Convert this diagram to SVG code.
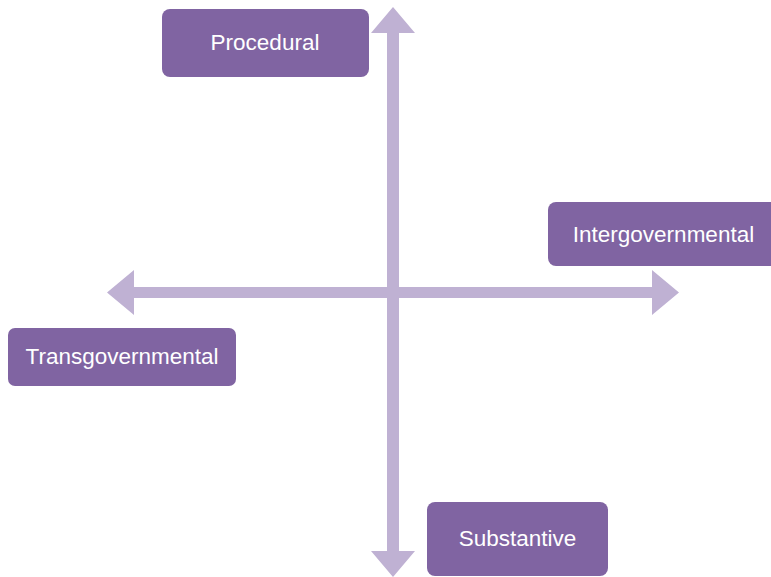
<svg xmlns="http://www.w3.org/2000/svg" width="771" height="577" viewBox="0 0 771 577">
  <style>
    .box { fill: #8064A2; }
    .axis { fill: #BFB1D3; }
    .label { fill: #FFFFFF; font-family: "Liberation Sans", Arial, sans-serif; font-size: 22.5px; text-anchor: middle; }
  </style>
  <rect width="771" height="577" fill="#FFFFFF"/>

  <!-- Axes: double-headed arrows -->
  <g id="connectors">
    <!-- vertical axis -->
    <polygon class="axis" points="393,7 415,33 399,33 399,551 415,551 393,577 371,551 387,551 387,33 371,33"/>
    <!-- horizontal axis -->
    <polygon class="axis" points="107,292.5 134,270 134,287 652,287 652,270 679,292.5 652,315 652,298 134,298 134,315"/>
  </g>

  <g id="procedural">
    <rect class="box" x="162" y="9" width="207" height="68" rx="8"/>
    <text class="label" x="265" y="50">Procedural</text>
  </g>

  <g id="intergovernmental">
    <rect class="box" x="548" y="202" width="232" height="64" rx="8"/>
    <text class="label" x="663.5" y="242">Intergovernmental</text>
  </g>

  <g id="transgovernmental">
    <rect class="box" x="8" y="328" width="228" height="58" rx="7"/>
    <text class="label" x="122" y="364">Transgovernmental</text>
  </g>

  <g id="substantive">
    <rect class="box" x="427" y="502" width="181" height="74" rx="8"/>
    <text class="label" x="517.5" y="546">Substantive</text>
  </g>
</svg>
